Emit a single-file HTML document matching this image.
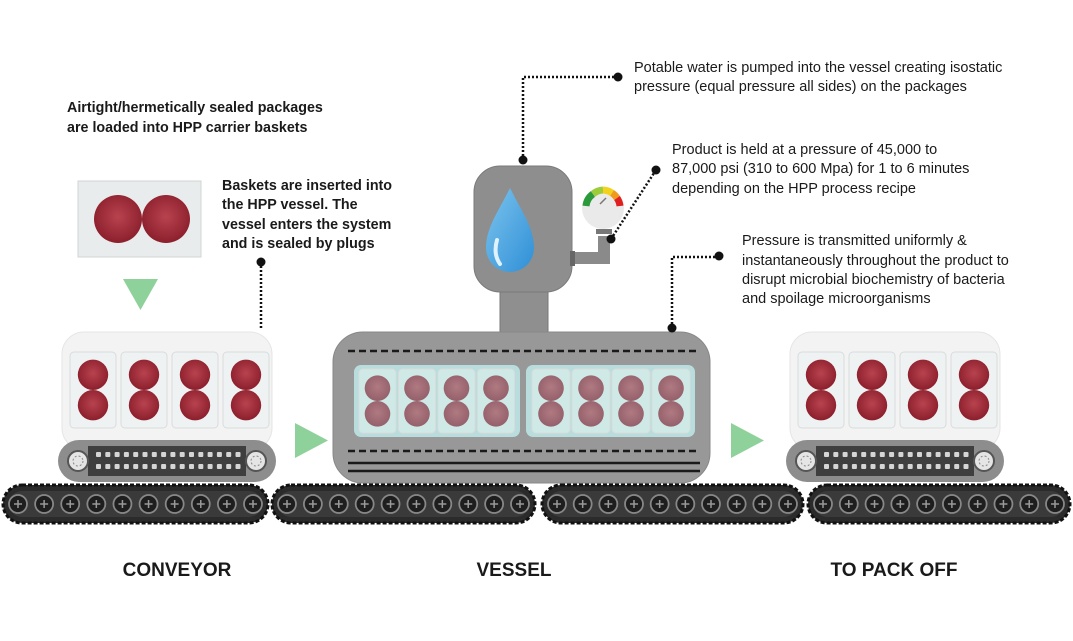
<!DOCTYPE html>
<html><head><meta charset="utf-8"><style>
html,body{margin:0;padding:0;background:#fff;}
svg{display:block;}
text{font-family:"Liberation Sans",sans-serif;fill:#1a1a1a;}
.b{font-weight:bold;font-size:14.3px;}
.n{font-size:14.5px;}
.h{font-weight:bold;font-size:19px;}
</style></head><body>
<svg id="s" width="1073" height="641" viewBox="0 0 1073 641" xmlns="http://www.w3.org/2000/svg">
<defs>
<radialGradient id="meat" cx="50%" cy="45%" r="55%"><stop offset="0" stop-color="#b8434f"/><stop offset="1" stop-color="#8c1f2c"/></radialGradient>
<radialGradient id="meat2" cx="50%" cy="45%" r="55%"><stop offset="0" stop-color="#b07a82"/><stop offset="1" stop-color="#94606a"/></radialGradient>
<linearGradient id="drop" x1="0" y1="0" x2="1" y2="1"><stop offset="0" stop-color="#7cc4ee"/><stop offset="1" stop-color="#2f8fd6"/></linearGradient>
</defs>
<g id="g"></g>
<text class="b" x="67" y="112">Airtight/hermetically sealed packages</text>
<text class="b" x="67" y="132">are loaded into HPP  carrier baskets</text>
<text class="b" x="222" y="190">Baskets are inserted into</text>
<text class="b" x="222" y="209">the HPP vessel. The</text>
<text class="b" x="222" y="229">vessel enters the system</text>
<text class="b" x="222" y="248">and is sealed by plugs</text>
<text class="n" x="634" y="72">Potable water is pumped into the vessel creating isostatic</text>
<text class="n" x="634" y="91">pressure (equal pressure all sides) on the packages</text>
<text class="n" x="672" y="154">Product is held at a pressure of 45,000 to</text>
<text class="n" x="672" y="173">87,000 psi (310 to 600 Mpa) for 1 to 6 minutes</text>
<text class="n" x="672" y="193">depending on the HPP process recipe</text>
<text class="n" x="742" y="245">Pressure is transmitted uniformly &amp;</text>
<text class="n" x="742" y="265">instantaneously throughout the product to</text>
<text class="n" x="742" y="284">disrupt microbial biochemistry of bacteria</text>
<text class="n" x="742" y="303">and spoilage microorganisms</text>
<text class="h" x="177" y="576" text-anchor="middle">CONVEYOR</text>
<text class="h" x="514" y="576" text-anchor="middle">VESSEL</text>
<text class="h" x="894" y="576" text-anchor="middle">TO PACK OFF</text>
</svg>
<script>
var g=document.getElementById('g'),h='';
function pkg(x,y,w,hh,m){
  h+='<rect x="'+x+'" y="'+y+'" width="'+w+'" height="'+hh+'" rx="4" fill="'+(m?'#eef2f3':'#cfe9e6')+'" stroke="#d8dcdc"/>';
  var r=Math.min(w,hh/2)*0.4, cx=x+w/2;
  h+='<circle cx="'+cx+'" cy="'+(y+hh*0.3)+'" r="'+r+'" fill="url(#'+(m?'meat':'meat2')+')"/>';
  h+='<circle cx="'+cx+'" cy="'+(y+hh*0.7)+'" r="'+r+'" fill="url(#'+(m?'meat':'meat2')+')"/>';
}
function bigbelt(x,w){
  var y=485,hh=38;
  h+='<rect x="'+x+'" y="'+y+'" width="'+w+'" height="'+hh+'" rx="19" fill="#2b2b2b" stroke="#111" stroke-width="3" stroke-dasharray="4 2"/>';
  h+='<rect x="'+(x+6)+'" y="'+(y+6)+'" width="'+(w-12)+'" height="'+(hh-12)+'" rx="13" fill="#3a3a3a"/>';
  var n=10,st=(w-30)/(n-1);
  for(var i=0;i<n;i++){var cx=x+15+i*st;
    h+='<circle cx="'+cx+'" cy="'+(y+19)+'" r="9" fill="#1e1e1e" stroke="#888" stroke-width="1.8"/>';
    h+='<path d="M'+(cx-4)+' '+(y+19)+'h8M'+cx+' '+(y+15)+'v8" stroke="#999" stroke-width="1.5"/>';}
}
function basket(x){
  h+='<rect x="'+x+'" y="332" width="210" height="118" rx="22" fill="#f3f3f3" stroke="#e6e6e6"/>';
  for(var i=0;i<4;i++) pkg(x+8+i*51,352,46,76,1);
  var bx=x-4,bw=218;
  h+='<rect x="'+bx+'" y="440" width="'+bw+'" height="42" rx="21" fill="#8d8d8d"/>';
  h+='<rect x="'+(bx+30)+'" y="446" width="'+(bw-60)+'" height="30" fill="#3f3f3f"/>';
  for(var r=0;r<2;r++)for(var i=0;i<16;i++)h+='<rect x="'+(bx+38+i*9.3)+'" y="'+(452+r*12)+'" width="5" height="5" rx="1" fill="#d5d5d5"/>';
  [bx+20,bx+bw-20].forEach(function(cx){h+='<circle cx="'+cx+'" cy="461" r="10" fill="#e5e5e5" stroke="#555" stroke-width="2"/><circle cx="'+cx+'" cy="461" r="5" fill="none" stroke="#888" stroke-dasharray="2 2"/>';});
}
function dots(d){h+='<path d="'+d+'" fill="none" stroke="#111" stroke-width="2.5" stroke-dasharray="2 2"/>';}
function dot(x,y){h+='<circle cx="'+x+'" cy="'+y+'" r="4.5" fill="#111"/>';}
h+='<rect x="78" y="181" width="123" height="76" fill="#e9ecec" stroke="#d0d4d4"/>';
h+='<circle cx="118" cy="219" r="24" fill="url(#meat)"/><circle cx="166" cy="219" r="24" fill="url(#meat)"/>';
h+='<path d="M123 279h35l-17.5 31z" fill="#8fd19b"/>';
dots('M261 262V330');dot(261,262);
basket(62);basket(790);
bigbelt(3,265);bigbelt(272,263);bigbelt(542,261);bigbelt(808,262);
h+='<path d="M295 423v35l33-17.5z" fill="#8fd19b"/><path d="M731 423v35l33-17.5z" fill="#8fd19b"/>';
h+='<rect x="500" y="288" width="48" height="46" fill="#8f8f8f" stroke="#777"/>';
h+='<rect x="333" y="332" width="377" height="151" rx="30" fill="#989898" stroke="#888"/>';
h+='<path d="M348 351H700M348 451H700" stroke="#1a1a1a" stroke-width="2.5" stroke-dasharray="7 4"/>';
h+='<path d="M348 463H700M348 471H700" stroke="#1a1a1a" stroke-width="2.5"/>';
h+='<rect x="354" y="365" width="166" height="72" rx="7" fill="#b9dcdc"/><rect x="526" y="365" width="169" height="72" rx="7" fill="#b9dcdc"/>';
for(var i=0;i<4;i++){pkg(359+i*39.5,369,37,64,0);pkg(532+i*40,369,38,64,0);}
h+='<rect x="474" y="166" width="98" height="126" rx="26" fill="#8e8e8e" stroke="#7a7a7a"/>';
h+='<path d="M510 188C522 212 534 228 534 248A24 24 0 0 1 486 248C486 228 498 212 510 188Z" fill="url(#drop)"/>';
h+='<path d="M497 240q-4 14 3 24" stroke="#dff2ff" stroke-width="4" fill="none" stroke-linecap="round"/>';
h+='<path d="M572 258h32v-22" stroke="#8a8a8a" stroke-width="12" fill="none"/><rect x="570" y="251" width="5" height="15" fill="#666"/><rect x="596" y="229" width="16" height="5" fill="#777"/>';
h+='<circle cx="603" cy="208" r="21" fill="#eaeaea"/>';
h+='<path d="M586 206a17 17 0 0 1 7-12" stroke="#2a9a3a" stroke-width="7" fill="none"/><path d="M593 194a17 17 0 0 1 10-4" stroke="#9ccc3a" stroke-width="7" fill="none"/><path d="M603 190a17 17 0 0 1 9 3" stroke="#f2d21c" stroke-width="7" fill="none"/><path d="M612 193a17 17 0 0 1 5 5" stroke="#f09a1c" stroke-width="7" fill="none"/><path d="M617 198a17 17 0 0 1 3 8" stroke="#e02020" stroke-width="7" fill="none"/>';
h+='<path d="M600 204l6-6" stroke="#777" stroke-width="1.5"/>';
dots('M523 160V77H618');dot(523,160);dot(618,77);
dots('M611 239L656 170');dot(611,239);dot(656,170);
dots('M672 328V257H719');dot(672,328);dot(719,256);
g.innerHTML=h;
</script>
</body></html>
